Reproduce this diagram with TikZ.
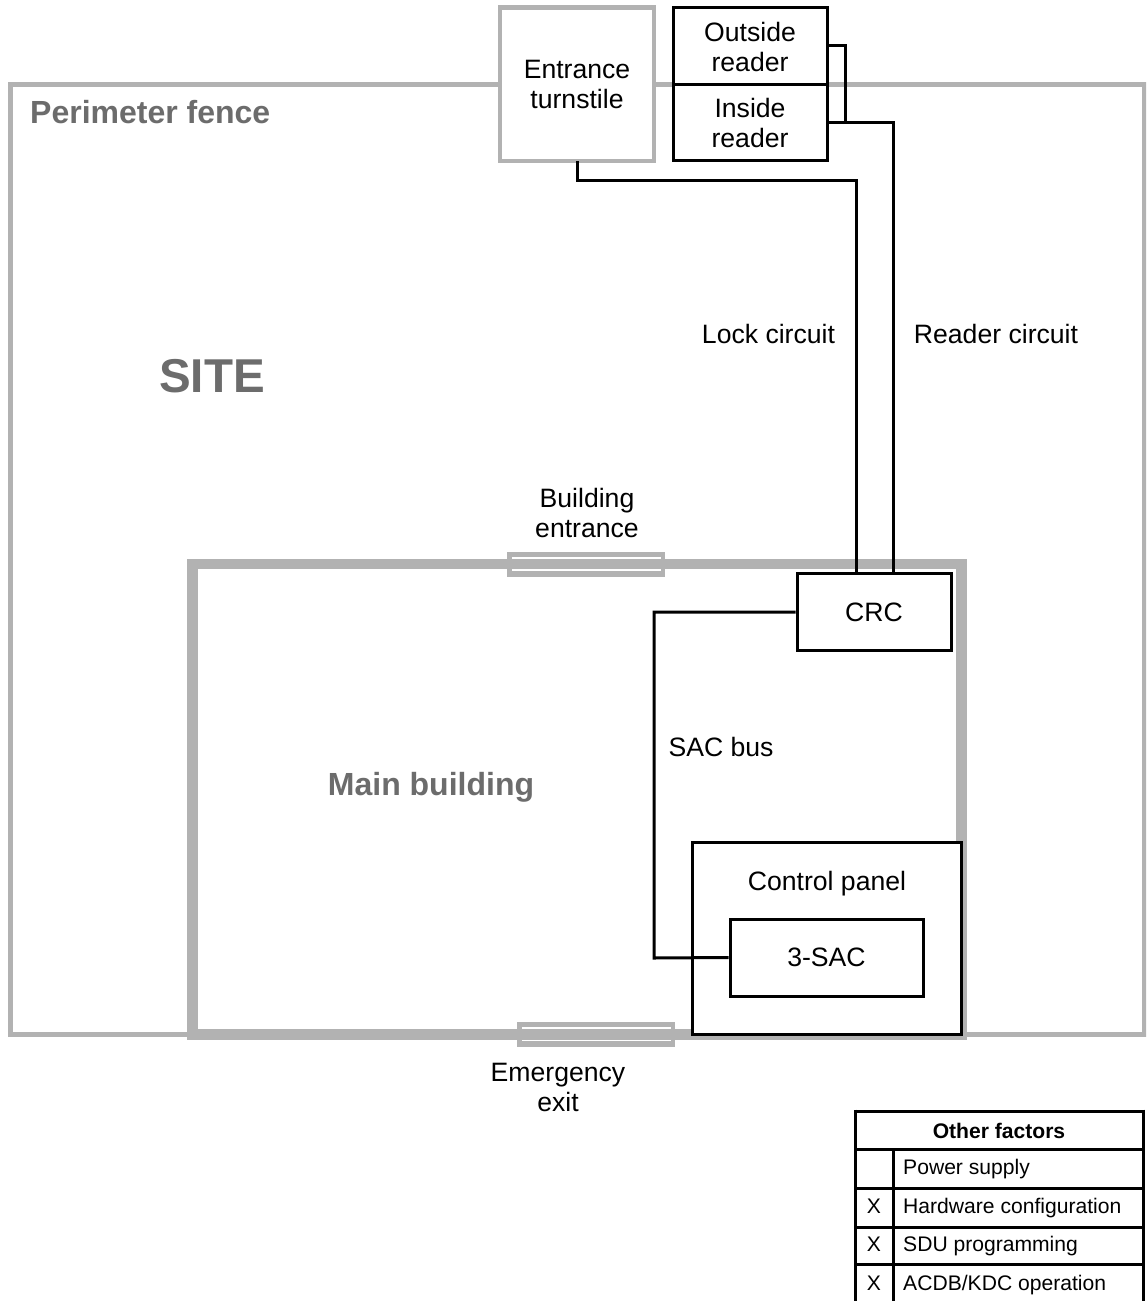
\documentclass[tikz,border=0pt]{standalone}
\usepackage{fontspec}
\setmainfont{Liberation Sans}
\tikzset{
  x=1pt,y=-1pt,
  fence/.style={draw=wallgray,line width=5pt,fill=none},
  wall/.style={draw=wallgray,line width=10.5pt,fill=none},
  blackbox/.style={draw=black,line width=3pt,fill=white,inner sep=0pt,minimum width=0pt},
  wire/.style={draw=black,line width=3pt},
  label/.style={font=\fontsize{26.6}{30}\selectfont,align=center,text=black,inner sep=0pt},
  graylabel/.style={font=\fontsize{32}{34}\selectfont\bfseries,text=labelgray,inner sep=0pt},
  cell/.style={font=\fontsize{21.1}{24}\selectfont,inner sep=0pt,text=black},
}
\definecolor{wallgray}{RGB}{178,178,178}
\definecolor{labelgray}{RGB}{108,108,108}
\begin{document}
\begin{tikzpicture}
\useasboundingbox[fill=white] (0,0) rectangle (1146,1301);
\clip (0,0) rectangle (1146,1301);
% fence and building
\draw[fence] (10.5,84.5) rectangle (1144,1034.5);
\draw[wall] (192.5,564) rectangle (961.5,1034.5);
% doors
\fill[wallgray] (507,552) rectangle (665,577);
\draw[white,line width=1.4pt] (512,558) -- (661,558) (512,570) -- (661,570);
\fill[wallgray] (517,1022) rectangle (675,1047);
\draw[white,line width=1.4pt] (522,1028) -- (671,1028) (522,1040.5) -- (671,1040.5);
% turnstile
\draw[draw=wallgray,line width=4.5pt,fill=white] (500,7.5) rectangle (654,161);
\node[label] (turn) at (577,84) {Entrance\\turnstile};
% readers
\draw[blackbox] (673,7) rectangle (827,84);
\draw[blackbox] (673,84) rectangle (827,160);
\coordinate (outr) at (827,45);
\coordinate (inr) at (827,122);
\node[label] (outlabel) at (750,47) {Outside\\reader};
\node[label] (inlabel) at (750,123) {Inside\\reader};
% CRC, panel, SAC
\coordinate (turnb) at (577,161);
\coordinate (lockc) at (856,573);
\coordinate (readc) at (893,573);
\node[blackbox,minimum width=154pt,minimum height=77pt,font=\fontsize{26.6}{30}\selectfont] (crc) at (874,612) {CRC};
\draw[blackbox] (692,842) rectangle (961,1034);
\draw[wire] (outr) -- (845,45) -- (845,122);
\draw[wire] (inr) -- (893,122) -- (readc);
\draw[wire] (turnb) -- (577,180) -- (856,180) -- (lockc);
\node[blackbox,minimum width=193pt,minimum height=77pt,font=\fontsize{26.6}{30}\selectfont] (sac) at (826.5,957.5) {3-SAC};
\draw[wire] (crc.west) -- (654,612) -- (654,958) -- (sac.west);
% labels
\node[graylabel,anchor=west] (pf) at (30,112) {Perimeter fence};
\node[font=\fontsize{47.5}{50}\selectfont\bfseries,text=labelgray,inner sep=0pt] (site) at (212,376) {SITE};
\node[graylabel] (mb) at (431,787) {Main building};
\node[label] (be) at (587,513) {Building\\entrance};
\node[label] (ee) at (558,1087.5) {Emergency\\exit};
\node[label] (lc) at (768.5,334) {Lock circuit};
\node[label] (rc) at (996,334) {Reader circuit};
\node[label] (sb) at (721,747) {SAC bus};
\node[label] (cp) at (827,884) {Control panel};
% table
\draw[wire] (855,1111) -- (1143,1111) (855,1149) -- (1143,1149) (855,1188) -- (1143,1188) (855,1227) -- (1143,1227) (855,1264) -- (1143,1264);
\draw[wire] (855,1109.5) -- (855,1302) (893,1149) -- (893,1302) (1143,1109.5) -- (1143,1302);
\node[cell,font=\fontsize{21.1}{24}\selectfont\bfseries] (h) at (999,1131) {Other factors};
\node[cell,anchor=west] (r1) at (903,1169) {Power supply};
\node[cell,anchor=west] (r2) at (903,1208) {Hardware configuration};
\node[cell,anchor=west] (r3) at (903,1246) {SDU programming};
\node[cell,anchor=west] (r4) at (903,1285) {ACDB/KDC operation};
\node[cell] (x2) at (874,1206) {X};
\node[cell] (x3) at (874,1244) {X};
\node[cell] (x4) at (874,1283) {X};
\end{tikzpicture}
\end{document}
